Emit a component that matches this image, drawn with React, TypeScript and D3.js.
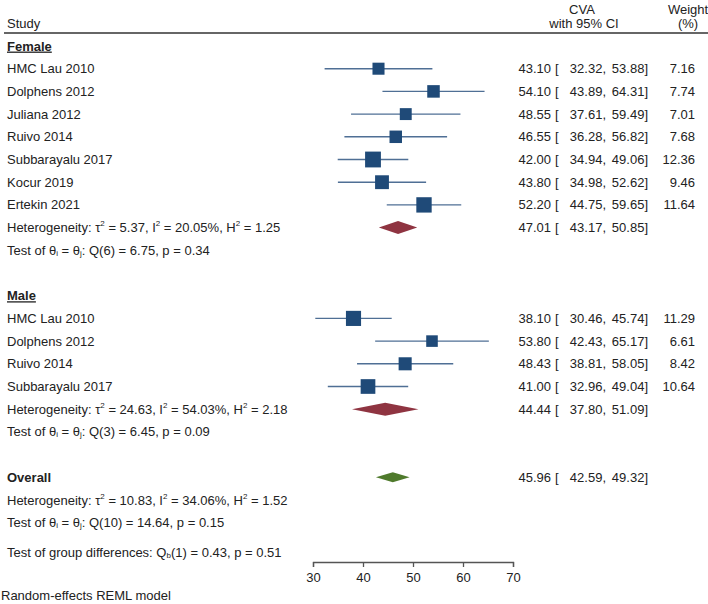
import React, { useEffect, useRef } from 'react';
import * as d3 from 'd3';

// Female subgroup
const femaleStudies = ['HMC Lau 2010', 'Dolphens 2012', 'Juliana 2012', 'Ruivo 2014', 'Subbarayalu 2017', 'Kocur 2019', 'Ertekin 2021'];
const femaleEst = [43.10, 54.10, 48.55, 46.55, 42.00, 43.80, 52.20];
const femaleLo = [32.32, 43.89, 37.61, 36.28, 34.94, 34.98, 44.75];
const femaleHi = [53.88, 64.31, 59.49, 56.82, 49.06, 52.62, 59.65];
const femaleWeight = [7.16, 7.74, 7.01, 7.68, 12.36, 9.46, 11.64];
const femalePooled = [47.01, 43.17, 50.85];
const femaleHet = ['5.37', '20.05', '1.25'];
const femaleQ = ['6', '6.75', '0.34'];

// Male subgroup
const maleStudies = ['HMC Lau 2010', 'Dolphens 2012', 'Ruivo 2014', 'Subbarayalu 2017'];
const maleEst = [38.10, 53.80, 48.43, 41.00];
const maleLo = [30.46, 42.43, 38.81, 32.96];
const maleHi = [45.74, 65.17, 58.05, 49.04];
const maleWeight = [11.29, 6.61, 8.42, 10.64];
const malePooled = [44.44, 37.80, 51.09];
const maleHet = ['24.63', '54.03', '2.18'];
const maleQ = ['3', '6.45', '0.09'];

// Overall
const overallPooled = [45.96, 42.59, 49.32];
const overallHet = ['10.83', '34.06', '1.52'];
const overallQ = ['10', '14.64', '0.15'];
const groupDiff = ['1', '0.43', '0.51'];

const axisTicks = [30, 40, 50, 60, 70];

const FONT = '"Liberation Sans", Arial, sans-serif';
const TXT = '#222';
const CI_COLOR = '#4f6f95';
const SQ_COLOR = '#1f4a78';
const SUB_COLOR = '#8f3441';
const ALL_COLOR = '#4f7a2c';

const x = d3.scaleLinear().domain([30, 70]).range([313, 513]);
const rowH = 22.7;
const rowY = (i: number) => 46 + i * rowH;

const f2 = d3.format('.2f');

const CiText = ({ y, vals, w }: { y: number; vals: number[]; w?: number }) => (
  <g fontSize={13} fill={TXT}>
    <text x={551} y={y} dy="0.35em" textAnchor="end">{f2(vals[0])}</text>
    <text x={555} y={y} dy="0.35em">[</text>
    <text x={606} y={y} dy="0.35em" textAnchor="end">{f2(vals[1])},</text>
    <text x={648} y={y} dy="0.35em" textAnchor="end">{f2(vals[2])}]</text>
    {w !== undefined && <text x={695} y={y} dy="0.35em" textAnchor="end">{f2(w)}</text>}
  </g>
);

const Het = ({ y, v }: { y: number; v: string[] }) => (
  <text x={7} y={y} dy="0.35em" fontSize={13} fill={TXT}>
    Heterogeneity: τ<tspan fontSize={8} dy={-6}>2</tspan><tspan dy={6}> = {v[0]}, I</tspan>
    <tspan fontSize={8} dy={-6}>2</tspan><tspan dy={6}> = {v[1]}%, H</tspan>
    <tspan fontSize={8} dy={-6}>2</tspan><tspan dy={6}> = {v[2]}</tspan>
  </text>
);

const QTest = ({ y, v }: { y: number; v: string[] }) => (
  <text x={7} y={y} dy="0.35em" fontSize={13} fill={TXT}>
    Test of θ<tspan fontSize={8} dy={1}>i</tspan><tspan dy={-1}> = θ</tspan>
    <tspan fontSize={8} dy={1}>j</tspan><tspan dy={-1}>: Q({v[0]}) = {v[1]}, p = {v[2]}</tspan>
  </text>
);

const Diamond = ({ y, vals, h, color }: { y: number; vals: number[]; h: number; color: string }) => {
  const pts: [number, number][] = [
    [x(vals[1]), y], [x(vals[0]), y - h / 2], [x(vals[2]), y], [x(vals[0]), y + h / 2],
  ];
  return <path d={(d3.line()(pts) || '') + 'Z'} fill={color} />;
};

const StudyRows = ({ start, names, est, lo, hi, w }: any) => (
  <g>
    {names.map((n: string, i: number) => {
      const y = rowY(start + i);
      const s = 4.5 * Math.sqrt(w[i]);
      return (
        <g key={n + i}>
          <text x={7} y={y} dy="0.35em" fontSize={13} fill={TXT}>{n}</text>
          <line x1={x(lo[i])} x2={x(hi[i])} y1={y} y2={y} stroke={CI_COLOR} strokeWidth={1.4} />
          <rect x={x(est[i]) - s / 2} y={y - s / 2} width={s} height={s} fill={SQ_COLOR} />
          <CiText y={y} vals={[est[i], lo[i], hi[i]]} w={w[i]} />
        </g>
      );
    })}
  </g>
);

export default function App() {
  const axisRef = useRef<SVGGElement>(null);

  useEffect(() => {
    const g = d3.select(axisRef.current);
    g.selectAll('*').remove();
    g.call(d3.axisBottom(x).tickValues(axisTicks).tickSize(5).tickSizeOuter(5).tickPadding(6));
    g.select('.domain').attr('stroke', '#555').attr('stroke-width', 1.3);
    g.selectAll('.tick line').attr('stroke', '#555').attr('stroke-width', 1.3);
    g.selectAll('.tick text')
      .attr('fill', TXT)
      .style('font-size', '13px')
      .style('font-family', FONT);
  }, []);

  return (
    <svg width={708} height={604} style={{ position: 'absolute', left: 0, top: 0, background: '#fff' }}
      fontFamily={FONT}>
      {/* header */}
      <text x={7} y={23} dy="0.35em" fontSize={13} fill={TXT}>Study</text>
      <text x={582} y={9} dy="0.35em" fontSize={13} fill={TXT} textAnchor="middle">CVA</text>
      <text x={584} y={23} dy="0.35em" fontSize={13} fill={TXT} textAnchor="middle">with 95% CI</text>
      <text x={688} y={9} dy="0.35em" fontSize={13} fill={TXT} textAnchor="middle">Weight</text>
      <text x={688} y={23} dy="0.35em" fontSize={13} fill={TXT} textAnchor="middle">(%)</text>
      <line x1={4} x2={708} y1={33} y2={33} stroke="#666" strokeWidth={2} />

      {/* Female */}
      <text x={7} y={rowY(0)} dy="0.35em" fontSize={13} fontWeight="bold" fill={TXT} textDecoration="underline">Female</text>
      <StudyRows start={1} names={femaleStudies} est={femaleEst} lo={femaleLo} hi={femaleHi} w={femaleWeight} />
      <Het y={rowY(8)} v={femaleHet} />
      <Diamond y={rowY(8)} vals={femalePooled} h={13} color={SUB_COLOR} />
      <CiText y={rowY(8)} vals={femalePooled} />
      <QTest y={rowY(9)} v={femaleQ} />

      {/* Male */}
      <text x={7} y={rowY(11)} dy="0.35em" fontSize={13} fontWeight="bold" fill={TXT} textDecoration="underline">Male</text>
      <StudyRows start={12} names={maleStudies} est={maleEst} lo={maleLo} hi={maleHi} w={maleWeight} />
      <Het y={rowY(16)} v={maleHet} />
      <Diamond y={rowY(16)} vals={malePooled} h={13} color={SUB_COLOR} />
      <CiText y={rowY(16)} vals={malePooled} />
      <QTest y={rowY(17)} v={maleQ} />

      {/* Overall */}
      <text x={7} y={rowY(19)} dy="0.35em" fontSize={13} fontWeight="bold" fill={TXT}>Overall</text>
      <Diamond y={rowY(19)} vals={overallPooled} h={10} color={ALL_COLOR} />
      <CiText y={rowY(19)} vals={overallPooled} />
      <Het y={rowY(20)} v={overallHet} />
      <QTest y={rowY(21)} v={overallQ} />
      <text x={7} y={rowY(22.3)} dy="0.35em" fontSize={13} fill={TXT}>
        Test of group differences: Q<tspan fontSize={8} dy={1}>b</tspan><tspan dy={-1}>({groupDiff[0]}) = {groupDiff[1]}, p = {groupDiff[2]}</tspan>
      </text>

      <g ref={axisRef} transform="translate(0,562)" />

      <text x={1} y={595} dy="0.35em" fontSize={13} fill={TXT}>Random-effects REML model</text>
    </svg>
  );
}
